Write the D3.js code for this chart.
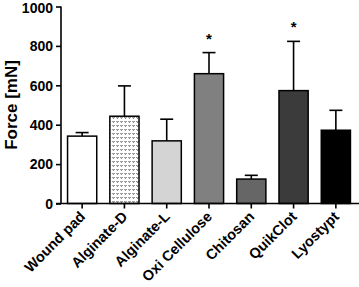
<!DOCTYPE html>
<html>
<head>
<meta charset="utf-8">
<script src="https://cdn.jsdelivr.net/npm/d3@7"></script>
<style>
  body { margin: 0; background: #fff; }
  text { font-family: "Liberation Sans", Arial, sans-serif; font-weight: bold; }
</style>
</head>
<body>
<div id="container"></div>
<script>
/* DATA */
const categories = ["Wound pad", "Alginate-D", "Alginate-L", "Oxi Cellulose", "Chitosan", "QuikClot", "Lyostypt"];
const means = [342, 443, 318, 659, 124, 573, 372];
const errTops = [360, 597, 428, 766, 143, 823, 473];
const significant = [false, false, false, true, false, true, false];
const fills = ["#ffffff", "url(#dots)", "#d4d4d4", "#808080", "#666666", "#3b3b3b", "#000000"];
const yTicks = [0, 200, 400, 600, 800, 1000];

/* CONSTANTS */
const width = 359, height = 287,
  margin = {top: 6.5, bottom: 84, left: 61, right: 2};

const svg = d3.select("#container")
  .append("svg")
  .attr("width", width)
  .attr("height", height);

// dotted pattern for Alginate-D
const pat = svg.append("defs").append("pattern")
  .attr("id", "dots")
  .attr("patternUnits", "userSpaceOnUse")
  .attr("width", 4).attr("height", 4);
pat.append("rect").attr("width", 4).attr("height", 4).attr("fill", "#fff");
pat.append("path").attr("d", "M0.5,1 L1.5,2.5 L2.5,1").attr("stroke", "#555").attr("stroke-width", 0.9).attr("fill", "none");

// SCALES
const xScale = d3.scaleBand()
  .domain(categories)
  .range([margin.left, width - margin.right])
  .paddingInner(0.31)
  .paddingOuter(0.155);

const yScale = d3.scaleLinear()
  .domain([0, 1000])
  .range([height - margin.bottom + 0.5, margin.top]);

const g = svg.append("g");

// error bars (upper only)
categories.forEach((c, i) => {
  const cx = xScale(c) + xScale.bandwidth() / 2;
  g.append("line")
    .attr("x1", cx).attr("x2", cx)
    .attr("y1", yScale(means[i])).attr("y2", yScale(errTops[i]))
    .attr("stroke", "#000").attr("stroke-width", 1.6);
  g.append("line")
    .attr("x1", cx - 6.5).attr("x2", cx + 6.5)
    .attr("y1", yScale(errTops[i])).attr("y2", yScale(errTops[i]))
    .attr("stroke", "#000").attr("stroke-width", 1.6);
  if (significant[i]) {
    g.append("text")
      .attr("x", cx).attr("y", yScale(errTops[i]) - 9)
      .attr("text-anchor", "middle")
      .attr("font-size", 15)
      .text("*");
  }
});

// bars
g.selectAll("rect.bar")
  .data(categories)
  .join("rect")
  .attr("class", "bar")
  .attr("x", d => xScale(d))
  .attr("y", (d, i) => yScale(means[i]))
  .attr("width", xScale.bandwidth())
  .attr("height", (d, i) => yScale(0) - yScale(means[i]))
  .attr("fill", (d, i) => fills[i])
  .attr("stroke", "#000")
  .attr("stroke-width", 1.5);

// y axis
const yAxis = svg.append("g")
  .attr("transform", `translate(${margin.left},0)`)
  .call(d3.axisLeft(yScale).tickValues(yTicks).tickFormat(d3.format("d")).tickSize(5).tickPadding(3));
yAxis.selectAll("text").attr("font-size", 14).attr("fill", "#000")
  .attr("dy", d => d === 1000 ? "0.45em" : "0.34em");
yAxis.selectAll("line, path").attr("stroke", "#000").attr("stroke-width", 1.6);
yAxis.select(".domain").attr("d", `M0,${yScale(1000)}V${yScale(0)}`);

// x axis
const xAxis = svg.append("g")
  .attr("transform", `translate(0,${yScale(0)})`)
  .call(d3.axisBottom(xScale).tickSize(5).tickSizeOuter(0));
xAxis.selectAll("line, path").attr("stroke", "#000").attr("stroke-width", 1.6);
xAxis.select(".domain").attr("d", `M${margin.left - 5},0H${width}`);
xAxis.selectAll("text")
  .attr("font-size", 14.5)
  .attr("fill", "#000")
  .attr("text-anchor", "end")
  .attr("dy", null)
  .attr("y", 0)
  .attr("transform", "translate(4,14) rotate(-45)");

// y label
svg.append("text")
  .attr("transform", `translate(17,${(yScale(0) + yScale(1000)) / 2}) rotate(-90)`)
  .attr("text-anchor", "middle")
  .attr("font-size", 17)
  .text("Force [mN]");
</script>
</body>
</html>
